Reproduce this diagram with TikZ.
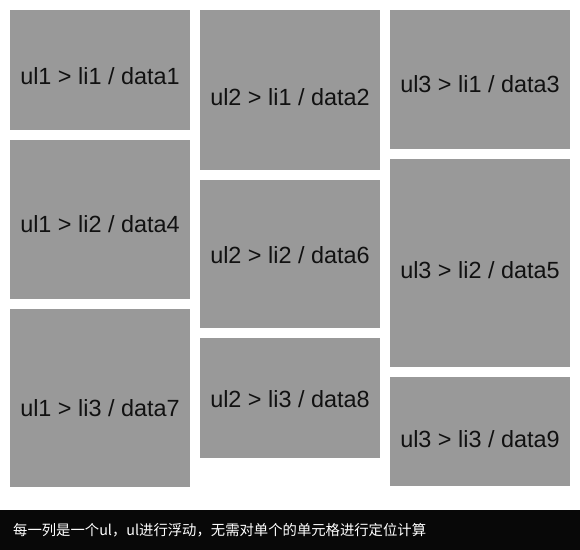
\documentclass[tikz,border=0pt]{standalone}
\usepackage{fontspec}
\setmainfont{Liberation Sans}
\newfontfamily\cjk{Noto Sans CJK SC}
\definecolor{cellgray}{HTML}{999999}
\definecolor{bargray}{HTML}{080808}
\definecolor{ink}{HTML}{111111}

\begin{document}
\begin{tikzpicture}[x=1bp,y=-1bp]
			\tikzstyle{cell}=[rectangle,fill=cellgray,minimum width=180bp,inner sep=0pt,outer sep=0pt]
			\tikzstyle{lbl}=[anchor=base,inner sep=0pt,font=\fontsize{23.5}{27}\selectfont,text=ink]
			\useasboundingbox (0,0) rectangle (580,550);
			\fill[white] (0,0) rectangle (580,550);
			\foreach \name/\x/\y/\h/\base/\txt in {ul1li1/10/10/120/85/{ul1 > li1 / data1},
				ul1li2/10/140/159/232/{ul1 > li2 / data4},
				ul1li3/10/309/178/416/{ul1 > li3 / data7},
				ul2li1/200/10/160/106/{ul2 > li1 / data2},
				ul2li2/200/180/148/263/{ul2 > li2 / data6},
				ul2li3/200/338/120/407/{ul2 > li3 / data8},
				ul3li1/390/10/139/93/{ul3 > li1 / data3},
				ul3li2/390/159/208/278/{ul3 > li2 / data5},
				ul3li3/390/377/109/447/{ul3 > li3 / data9}}
			{
				\node[cell,minimum height=\h bp] (\name) at (\x+90,\y+\h/2) {};
				\node[lbl] (t\name) at (\x+90,\base) {\txt};
			}
			\node[fill=bargray,minimum width=580bp,minimum height=40bp,inner sep=0pt] (bar) at (290,530) {};
			\node[anchor=west,inner sep=0pt,text=white,font=\cjk\fontsize{14.4}{18}\selectfont] (note) at (13,530) {每一列是一个ul，ul进行浮动，无需对单个的单元格进行定位计算};
		\end{tikzpicture}
\end{document}
